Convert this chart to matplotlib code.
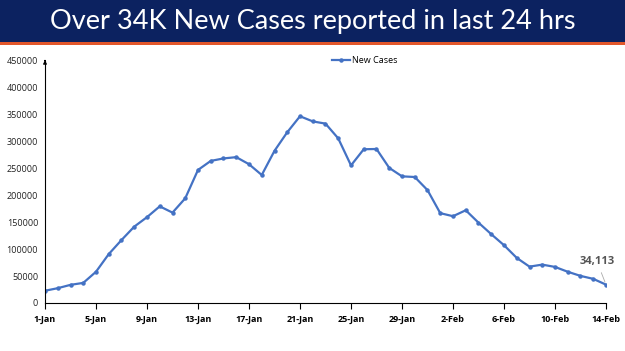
import matplotlib.pyplot as plt
from matplotlib.patches import Rectangle
import pandas as pd

# daily new cases, 1-Jan .. 14-Feb
dates = pd.date_range("2022-01-01", "2022-02-14", freq="D")
new_cases = [
    22775, 27553, 33750, 37379, 58097, 90928, 117100, 141986, 159632, 179723,
    168063, 194720, 247417, 264202, 268833, 271202, 258089, 238018, 282970, 317532,
    347254, 337704, 333533, 306064, 255874, 285914, 286384, 251209, 235532, 234281,
    209918, 167059, 161386, 172433, 149394, 127952, 107474, 83876, 67597, 71365,
    67084, 58077, 50407, 44877, 34113,
]
title = "Over 34K New Cases reported in last 24 hrs"
yticks = list(range(0, 450001, 50000))

fig = plt.figure(figsize=(6.25, 3.51), dpi=100)

# title banner
fig.patches.append(Rectangle((0, 1 - 42 / 351), 1, 42 / 351, transform=fig.transFigure,
                             facecolor="#0c2260", edgecolor="none", zorder=0))
fig.patches.append(Rectangle((0, 1 - 44.5 / 351), 1, 2.5 / 351, transform=fig.transFigure,
                             facecolor="#e2572b", edgecolor="none", zorder=0))
fig.text(0.5, 1 - 21 / 351, title, color="white", fontsize=19.5, family="Lato",
         ha="center", va="center")

ax = fig.add_axes([45 / 625, 1 - 303 / 351, 561 / 625, 242 / 351])
x = list(range(len(new_cases)))
ax.plot(x, new_cases, color="#4472c4", lw=1.6, marker="o", ms=2.2, label="New Cases")

ax.set_xlim(0, len(new_cases) - 1)
ax.set_ylim(0, 450000)
ax.set_yticks(yticks)
ax.set_yticklabels([str(v) for v in yticks], fontsize=6.5, color="#222222", family="Open Sans")
ax.tick_params(axis="y", length=0, pad=5)
xt = x[::4]
ax.set_xticks(xt)
ax.set_xticklabels([f"{dates[i].day}-{dates[i].strftime('%b')}" for i in xt],
                   fontsize=6.5, fontweight="bold", family="Open Sans")
ax.tick_params(axis="x", length=4, width=0.8, direction="out", pad=5)

for s in ["top", "right"]:
    ax.spines[s].set_visible(False)
ax.spines["left"].set_linewidth(0.8)
ax.spines["bottom"].set_linewidth(0.8)
ax.annotate("", xy=(0, 1.015), xycoords="axes fraction", xytext=(0, 0.99),
            arrowprops=dict(arrowstyle="-|>", color="black", lw=0.8, mutation_scale=5))

ax.legend(loc="upper center", bbox_to_anchor=(0.57, 1.055), frameon=False,
          prop={"size": 6.5, "family": "Open Sans"}, handlelength=2, handletextpad=0.2)

ax.annotate(f"{new_cases[-1]:,}", xy=(x[-1], new_cases[-1]), xytext=(x[-1] - 0.7, 72000),
            fontsize=8, fontweight="bold", color="#555555", ha="center", family="Open Sans",
            arrowprops=dict(arrowstyle="-", color="#aaaaaa", lw=0.6))

fig.savefig("out.png", dpi=100)
